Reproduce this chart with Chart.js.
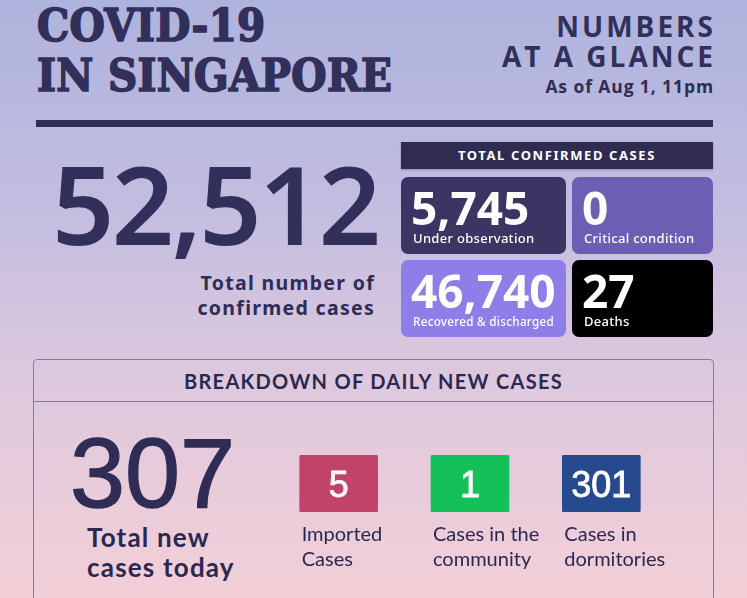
<!DOCTYPE html>
<html>
<head>
<meta charset="utf-8">
<script src="https://cdn.jsdelivr.net/npm/chart.js@4.4.1/dist/chart.umd.min.js"></script>
<style>
  html, body { margin: 0; padding: 0; }
  body {
    width: 747px; height: 598px; overflow: hidden; position: relative;
    background: linear-gradient(#aeb3dd 0%, #c3bde0 35%, #dcc8de 62%, #f3cfd7 100%);
    color: #2f2c55; font-family: 'Noto Sans', sans-serif;
  }
  .abs { position: absolute; white-space: nowrap; }
  .title { left: 37px; font-family: 'DejaVu Serif Condensed', 'DejaVu Serif', serif; font-weight: bold;
           font-size: 45px; line-height: 1; letter-spacing: 0.3px; color: #322f5a;
           -webkit-text-stroke: 1.6px #322f5a; }
  .glance { right: 31px; text-align: right; font-family: 'Open Sans', sans-serif; font-weight: 700;
            font-size: 28px; line-height: 1; letter-spacing: 3px; color: #322f5a; }
  .asof { right: 33px; font-family: 'Open Sans', sans-serif; font-weight: 700; font-size: 17.5px; line-height: 1; letter-spacing: 0.9px; }
  .rule { left: 36px; top: 120px; width: 677px; height: 7px; background: #2f2c55; }
  .hdr { left: 401px; top: 142px; width: 312px; height: 27px; background: #2f2b51; color: #fff;
         font-weight: bold; font-size: 13px; letter-spacing: 1.6px; text-align: center; line-height: 27px;
         box-shadow: 0 1px 2px rgba(0,0,0,0.25); }
  .big { left: 52px; top: 148px; font-size: 109px; font-weight: 600; letter-spacing: -2.6px; line-height: 1; color: #322f5a; }
  .sub { right: 372px; text-align: right; font-weight: bold; font-size: 19.5px; letter-spacing: 1.3px; line-height: 25px; }
  .box { left: 33px; top: 359px; width: 679px; height: 260px; border: 1px solid #857a98; border-radius: 4px; }
  .boxhdr { left: 33px; top: 359px; width: 681px; height: 42px; border-bottom: 1px solid #857a98;
            font-family: 'Lato', sans-serif; font-weight: bold; font-size: 20px; text-align: center; line-height: 44px;
            color: #2a2850; letter-spacing: 1.3px; }
  .n307 { left: 70px; top: 423px; font-family: 'Liberation Sans', Arial, sans-serif; font-size: 99px; line-height: 1;
          color: #2f2d55; -webkit-text-stroke: 1.4px #2f2d55; }
  .today { left: 87px; top: 522px; font-family: 'Lato', sans-serif; font-weight: bold; font-size: 26px; line-height: 30px; letter-spacing: 1.2px; color: #2a2850; }
  .chartbox { position: absolute; }
</style>
</head>
<body>
<div class="abs title" style="top:3px">COVID-19</div>
<div class="abs title" style="top:53px">IN SINGAPORE</div>
<div class="abs glance" style="top:12px">NUMBERS</div>
<div class="abs glance" style="top:42px">AT A GLANCE</div>
<div class="abs asof" style="top:78px">As of Aug 1, 11pm</div>
<div class="abs rule"></div>

<div class="abs hdr">TOTAL CONFIRMED CASES</div>
<div class="abs big" id="totalCases"></div>
<div class="abs sub" style="top:270px">Total number of<br>confirmed cases</div>

<div class="chartbox" style="left:401px; top:174px; width:312px; height:166px;"><canvas id="grid"></canvas></div>

<div class="abs box"></div>
<div class="abs boxhdr">BREAKDOWN OF DAILY NEW CASES</div>
<div class="abs n307" id="newCases"></div>
<div class="abs today">Total new<br>cases today</div>

<div class="chartbox" style="left:273px; top:455px; width:394px; height:125px;"><canvas id="daily"></canvas></div>

<script>
// --- data ---
const totalConfirmed = 52512;
const gridRows = ['row1', 'row2'];
const statusValues = [5745, 0, 46740, 27];
const statusLabels = ['Under observation', 'Critical condition', 'Recovered & discharged', 'Deaths'];
const statusColors = ['#3b3563', '#6d5eb4', '#8e7fe8', '#000000'];

const newToday = 307;
const dailyCategories = ['Imported', 'Community', 'Dormitories'];
const dailyValues = [5, 1, 301];
const dailyLabels = [['Imported', 'Cases'], ['Cases in the', 'community'], ['Cases in', 'dormitories']];
const dailyColors = ['#c24369', '#13c05a', '#274a8e'];

// layout of the 2x2 tile grid, in px along the grid width
const GRID_W = 312;
const colSpan = [[0, 165], [171, 312]];

const fmt = v => v.toLocaleString('en-US');
document.getElementById('totalCases').textContent = fmt(totalConfirmed);
document.getElementById('newCases').textContent = fmt(newToday);

Chart.defaults.animation = false;
Chart.defaults.plugins.legend.display = false;
Chart.defaults.plugins.tooltip.enabled = false;

// tile datasets: one per column, each bar one row
const gridDatasets = colSpan.map(function (span, c) {
    return {
        data: gridRows.map(() => span),
        backgroundColor: gridRows.map((r, i) => statusColors[i * 2 + c]),
        borderRadius: 7,
        borderSkipped: false,
        grouped: false,
        barPercentage: 0.93,
        categoryPercentage: 1
    };
});

const gridText = {
    id: 'gridText',
    afterDatasetsDraw(chart) {
        const ctx = chart.ctx;
        ctx.save();
        ctx.fillStyle = '#ffffff';
        ctx.textBaseline = 'alphabetic';
        chart.data.datasets.forEach(function (ds, c) {
            chart.getDatasetMeta(c).data.forEach(function (bar, r) {
                const left = Math.min(bar.x, bar.base);
                const top = bar.y - bar.height / 2;
                const w = Math.abs(bar.x - bar.base);
                const i = r * 2 + c;
                ctx.font = 'bold 46px "Noto Sans"';
                ctx.letterSpacing = '0px';
                ctx.fillText(fmt(statusValues[i]), left + 10, top + 48);
                ctx.font = '500 13px "Noto Sans"';
                ctx.letterSpacing = '0.3px';
                ctx.fillText(statusLabels[i], left + 12, top + 66, w - 24);
            });
        });
        ctx.restore();
    }
};

new Chart(document.getElementById('grid'), {
    type: 'bar',
    data: { labels: gridRows, datasets: gridDatasets },
    options: {
        indexAxis: 'y',
        responsive: true,
        maintainAspectRatio: false,
        layout: { padding: 0 },
        scales: {
            x: { type: 'linear', min: 0, max: GRID_W, display: false },
            y: { display: false }
        }
    },
    plugins: [gridText]
});

// daily breakdown tiles, each a fixed-size cell holding its count
const dailyText = {
    id: 'dailyText',
    afterDatasetsDraw(chart) {
        const ctx = chart.ctx;
        ctx.save();
        chart.getDatasetMeta(0).data.forEach(function (bar, i) {
            const left = bar.x - bar.width / 2;
            const top = Math.min(bar.y, bar.base);
            ctx.fillStyle = '#ffffff';
            ctx.strokeStyle = '#ffffff';
            ctx.lineWidth = 0.8;
            ctx.textAlign = 'center';
            ctx.font = '36px "Liberation Sans"';
            ctx.fillText(String(dailyValues[i]), bar.x, top + 42);
            ctx.strokeText(String(dailyValues[i]), bar.x, top + 42);
            ctx.fillStyle = '#2a2850';
            ctx.textAlign = 'left';
            ctx.font = '20px "Lato"';
            dailyLabels[i].forEach(function (line, k) {
                ctx.fillText(line, left + 2, top + 86 + k * 25);
            });
        });
        ctx.restore();
    }
};

new Chart(document.getElementById('daily'), {
    type: 'bar',
    data: {
        labels: dailyCategories,
        datasets: [{
            data: dailyCategories.map(() => [0, 1]),
            backgroundColor: dailyColors,
            borderRadius: 2,
            borderSkipped: false,
            barThickness: 78
        }]
    },
    options: {
        responsive: true,
        maintainAspectRatio: false,
        layout: { padding: { bottom: 68 } },
        scales: {
            x: { display: false },
            y: { min: 0, max: 1, display: false }
        }
    },
    plugins: [dailyText]
});
</script>
</body>
</html>
